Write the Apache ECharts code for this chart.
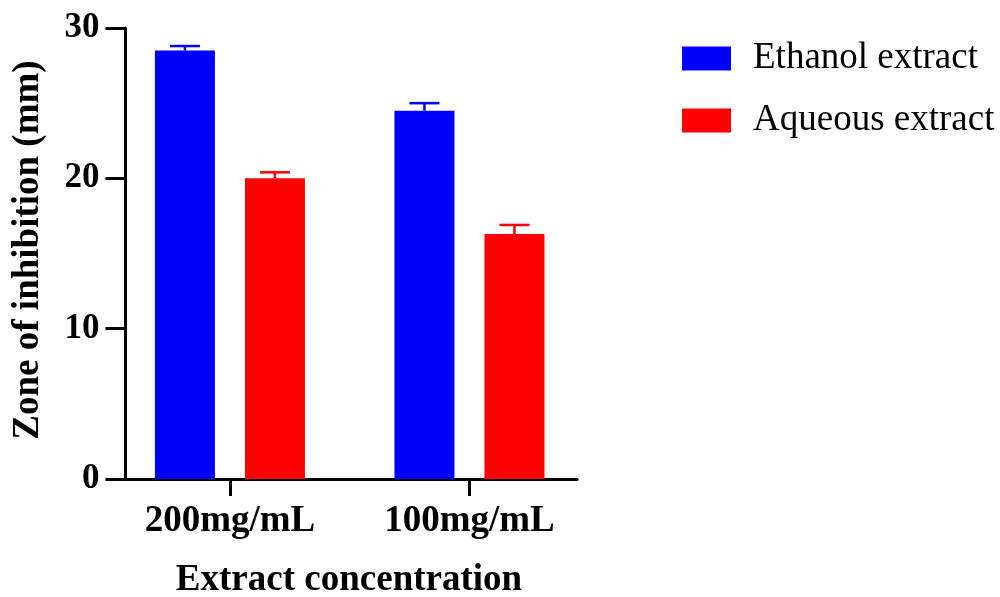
<!DOCTYPE html>
<html>
<head>
<meta charset="utf-8">
<script src="https://cdn.jsdelivr.net/npm/echarts@6/dist/echarts.min.js"></script>
<style>
  html, body { margin: 0; padding: 0; background: #fff; }
  #chart { width: 1000px; height: 597px; }
</style>
</head>
<body>
<div id="chart"></div>
<script>
// Zone of inhibition by extract concentration (mean with SD error bars)
const categories = ['200mg/mL', '100mg/mL'];
const seriesNames = ['Ethanol extract', 'Aqueous extract'];
const ethanolMean = [28.5, 24.5];
const ethanolSD = [0.3, 0.5];
const aqueousMean = [20.0, 16.3];
const aqueousSD = [0.4, 0.6];
const yTicks = [0, 10, 20, 30];

const FONT = 'Liberation Serif';
const BLUE = '#0000ff';
const RED = '#ff0000';
const BAR_WIDTH = 60;
const BAR_GAP = 30;          // px between the two bars of a group
const HALF_STEP = (BAR_WIDTH + BAR_GAP) / 2;

const chart = echarts.init(document.getElementById('chart'), null, { renderer: 'canvas' });

function barData(means) {
  return means.map((v, i) => [i, v]);
}

function errorSeries(name, means, sds, color, offset) {
  return {
    name: name,
    type: 'custom',
    silent: true,
    z: 3,
    data: means.map((v, i) => [i, v, v + sds[i]]),
    renderItem: function (params, api) {
      const base = api.coord([api.value(0), api.value(1)]);
      const top = api.coord([api.value(0), api.value(2)]);
      const x = base[0] + offset;
      const style = { stroke: color, lineWidth: 2.5, fill: null };
      return {
        type: 'group',
        children: [
          { type: 'line', shape: { x1: x, y1: base[1], x2: x, y2: top[1] }, style: style },
          { type: 'line', shape: { x1: x - 15, y1: top[1], x2: x + 15, y2: top[1] }, style: style }
        ]
      };
    }
  };
}

const option = {
  animation: false,
  backgroundColor: '#ffffff',
  grid: { left: 125.5, right: 423, top: 28, bottom: 118, containLabel: false },
  xAxis: {
    type: 'value',
    min: -0.436,
    max: 1.449,
    splitLine: { show: false },
    axisLine: { show: true, onZero: false, lineStyle: { color: '#000', width: 3 } },
    axisTick: { show: true, length: 17, lineStyle: { color: '#000', width: 3 }, customValues: categories.map((c, i) => i) },
    axisLabel: {
      show: true,
      margin: 24,
      customValues: categories.map((c, i) => i),
      formatter: function (v) { return categories[Math.round(v)]; },
      fontFamily: FONT, fontWeight: 'bold', fontSize: 37, color: '#000'
    }
  },
  yAxis: {
    type: 'value',
    min: yTicks[0],
    max: yTicks[yTicks.length - 1],
    interval: 10,
    splitLine: { show: false },
    axisLine: { show: true, onZero: false, lineStyle: { color: '#000', width: 3 } },
    axisTick: { show: true, length: 20, lineStyle: { color: '#000', width: 3 } },
    axisLabel: { margin: 26, fontFamily: FONT, fontWeight: 'bold', fontSize: 35, color: '#000' }
  },
  legend: {
    orient: 'vertical',
    left: 677,
    top: 35,
    itemWidth: 49,
    itemHeight: 24,
    itemGap: 25,
    icon: 'rect',
    data: seriesNames,
    textStyle: { fontFamily: FONT, fontSize: 37, color: '#000', padding: [0, 0, 0, 17] }
  },
  graphic: [
    {
      type: 'text',
      x: 349,
      y: 580,
      style: { text: 'Extract concentration', fontFamily: FONT, fontWeight: 'bold', fontSize: 37, fill: '#000', align: 'center', verticalAlign: 'middle' }
    },
    {
      type: 'text',
      rotation: Math.PI / 2,
      x: 10,
      y: 250,
      style: { text: 'Zone of inhibition (mm)', fontFamily: FONT, fontWeight: 'bold', fontSize: 37, fill: '#000', align: 'center', verticalAlign: 'top' }
    }
  ],
  series: [
    {
      name: seriesNames[0], type: 'bar', data: barData(ethanolMean),
      barWidth: BAR_WIDTH, barGap: (BAR_GAP / BAR_WIDTH * 100) + '%',
      itemStyle: { color: BLUE }
    },
    {
      name: seriesNames[1], type: 'bar', data: barData(aqueousMean),
      barWidth: BAR_WIDTH, barGap: (BAR_GAP / BAR_WIDTH * 100) + '%',
      itemStyle: { color: RED }
    },
    errorSeries(seriesNames[0], ethanolMean, ethanolSD, BLUE, -HALF_STEP),
    errorSeries(seriesNames[1], aqueousMean, aqueousSD, RED, HALF_STEP)
  ]
};

chart.setOption(option);
</script>
</body>
</html>
